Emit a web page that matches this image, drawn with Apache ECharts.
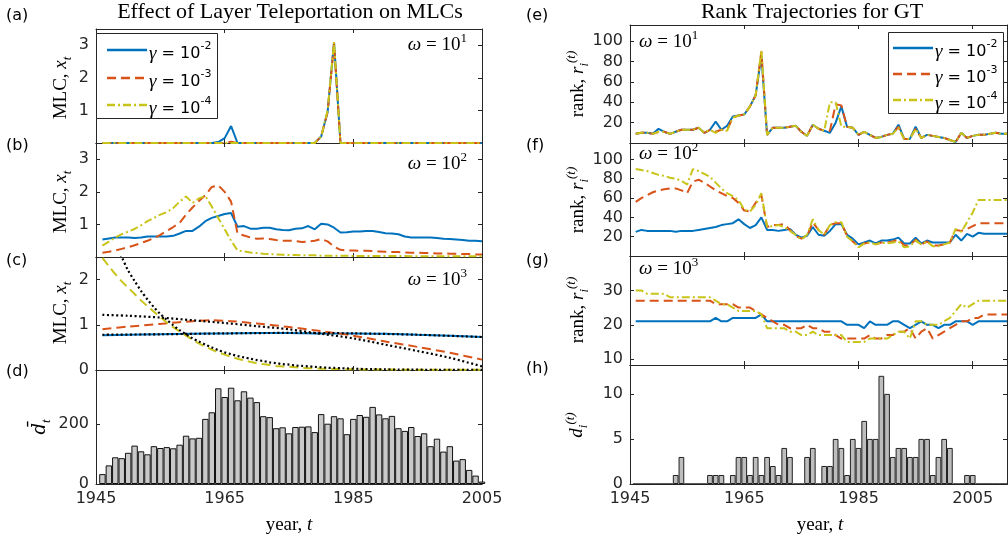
<!DOCTYPE html>
<html><head><meta charset="utf-8">
<script src="https://cdn.jsdelivr.net/npm/echarts@6/dist/echarts.min.js"></script>
<style>html,body{margin:0;padding:0;background:#fff}#c{width:1008px;height:542px}</style>
</head><body><div id="c"></div>
<script>
// ---------------- DATA ----------------
const START = 1946;                 // first year of every series
const xTicks = [1945, 1965, 1985, 2005];
const gammaLabels = ['-2', '-3', '-4'];
const omegaExp = ['1', '2', '3'];

// (a) MLC, omega = 10^1 (1946..2005)
const aBlue   = [0,0,0,0,0,0,0,0,0,0, 0,0,0,0,0,0,0,0,0.03,0.15, 0.52,0,0,0,0,0,0,0,0,0, 0,0,0,0,0.2,0.95,3.1,0,0,0, 0,0,0,0,0,0,0,0,0,0, 0,0,0,0,0,0,0,0,0,0];
const aOrange = [0,0,0,0,0,0,0,0,0,0, 0,0,0,0,0,0,0,0,0,0, 0.04,0,0,0,0,0,0,0,0,0, 0,0,0,0,0.2,0.95,3.05,0,0,0, 0,0,0,0,0,0,0,0,0,0, 0,0,0,0,0,0,0,0,0,0];
const aYellow = [0,0,0,0,0,0,0,0,0,0, 0,0,0,0,0,0,0,0,0,0, 0,0,0,0,0,0,0,0,0,0, 0,0,0,0,0.2,1.0,3.1,0,0,0, 0,0,0,0,0,0,0,0,0,0, 0,0,0,0,0,0,0,0,0,0];
// (b) MLC, omega = 10^2
const bBlue   = [0.54,0.57,0.6,0.6,0.6,0.58,0.6,0.63,0.63,0.63, 0.63,0.65,0.72,0.8,0.8,0.93,1.1,1.2,1.26,1.32, 1.35,0.93,0.95,0.87,0.87,0.9,0.9,0.85,0.83,0.82, 0.87,0.88,0.95,0.85,1.02,1.0,0.9,0.75,0.76,0.78, 0.78,0.8,0.8,0.77,0.73,0.72,0.7,0.63,0.6,0.6, 0.6,0.6,0.58,0.56,0.55,0.54,0.52,0.5,0.5,0.48];
const bOrange = [0.13,0.16,0.2,0.25,0.3,0.36,0.43,0.5,0.58,0.68, 0.8,0.92,1.05,1.3,1.52,1.72,1.9,2.15,2.2,2.0, 1.7,0.72,0.66,0.6,0.56,0.57,0.55,0.52,0.5,0.5, 0.49,0.46,0.47,0.5,0.55,0.48,0.32,0.22,0.2,0.2, 0.19,0.19,0.18,0.17,0.16,0.15,0.15,0.14,0.13,0.13, 0.12,0.12,0.11,0.11,0.1,0.1,0.09,0.09,0.08,0.08];
const bYellow = [0.35,0.47,0.6,0.7,0.78,0.86,0.97,1.1,1.2,1.3, 1.38,1.5,1.7,1.86,1.66,1.8,1.87,1.55,1.2,0.85, 0.5,0.2,0.17,0.14,0.12,0.1,0.09,0.08,0.07,0.06, 0.06,0.05,0.05,0.05,0.04,0.04,0.04,0.04,0.04,0.03, 0.03,0.03,0.03,0.03,0.03,0.03,0.03,0.03,0.02,0.02, 0.02,0.02,0.02,0.02,0.02,0.02,0.02,0.02,0.02,0.02];
// (c) MLC, omega = 10^3, with fitted (dotted) curves
const cBlue      = [[1946,0.77],[1950,0.78],[1955,0.79],[1960,0.8],[1965,0.81],[1970,0.82],[1975,0.82],[1980,0.81],[1985,0.81],[1990,0.8],[1995,0.78],[2000,0.76],[2005,0.73]];
const cBlueFit   = [[1946,0.78],[1955,0.79],[1965,0.81],[1975,0.82],[1985,0.81],[1995,0.78],[2005,0.73]];
const cOrange    = [[1946,0.9],[1950,0.96],[1955,1.02],[1960,1.08],[1963,1.1],[1966,1.08],[1970,1.03],[1975,0.95],[1980,0.86],[1985,0.76],[1990,0.63],[1995,0.51],[2000,0.38],[2005,0.23]];
const cOrangeFit = [[1946,1.22],[1950,1.2],[1955,1.16],[1960,1.1],[1965,1.04],[1970,0.97],[1975,0.9],[1980,0.8],[1985,0.7],[1990,0.56],[1995,0.42],[2000,0.27],[2005,0.08]];
const cYellow    = [2.48,2.3,2.12,1.96,1.82,1.68,1.54,1.41,1.29,1.17, 1.05,0.95,0.85,0.76,0.67,0.59,0.52,0.45,0.39,0.34, 0.29,0.25,0.21,0.18,0.15,0.13,0.11,0.09,0.08,0.07, 0.06,0.05,0.04,0.035,0.03,0.025,0.02,0.02,0.015,0.015, 0.01,0.01,0.01,0.01,0.01,0.01,0.005,0.005,0.005,0.005, 0.005,0.005,0.005,0.005,0.005,0.005,0.005,0.005,0.005,0.005];
const cYellowFit = [3.6,3.2,2.8,2.5,2.2,1.97,1.75,1.56,1.39,1.24, 1.11,0.99,0.88,0.79,0.7,0.63,0.56,0.5,0.44,0.39, 0.35,0.31,0.28,0.25,0.22,0.2,0.17,0.15,0.13,0.12, 0.1,0.09,0.08,0.07,0.06,0.05,0.045,0.04,0.035,0.03, 0.025,0.02,0.02,0.015,0.015,0.01,0.01,0.01,0.01,0.01, 0.005,0.005,0.005,0.005,0.005,0.005,0.005,0.005,0.005,0.005];
// (d) mean d_t (1946..2005)
const dMean = [33,62,89,86,104,128,109,99,126,120, 123,119,131,161,152,154,217,239,319,290, 321,279,309,288,273,226,223,186,189,169, 190,191,192,173,233,201,226,219,166,217, 230,224,257,232,219,227,186,177,190,160, 169,126,151,108,126,78,83,47,28,8];
// (e) rank, omega = 10^1 (1946..2011)
const eBlue   = [9,10,10,9,14,11,9,11,13,13, 13,15,10,13,21,13,17,26,27,28, 36,47,86,8,15,15,15,16,17,11, 7,18,14,12,10,20,36,16,15,8, 11,8,5,6,8,9,18,4,4,16, 5,8,7,6,5,3,1,10,5,7, 8,8,9,10,9,9];
const eOrange = [9,10,10,9,11,11,9,11,13,13, 13,15,10,13,11,13,13,25,27,28, 36,47,90,8,15,15,15,16,17,11, 7,18,14,12,12,38,37,16,15,8, 11,8,5,6,8,9,16,4,4,14, 5,8,7,6,5,3,1,10,5,7, 8,8,9,10,9,9];
const eYellow = [9,10,10,9,11,11,9,11,13,13, 13,15,10,13,10,13,12,25,27,28, 36,47,91,8,15,15,15,16,17,11, 7,18,14,12,40,40,16,16,15,8, 11,8,5,6,8,9,15,4,4,14, 5,8,7,6,5,3,1,10,5,7, 8,8,9,10,9,9];
// (f) rank, omega = 10^2
const fBlue   = [25,27,26,26,26,26,26,25,26,26, 26,27,28,29,30,32,33,34,38,33, 29,32,40,27,27,26,27,28,22,19, 21,30,22,21,26,33,33,22,18,12, 14,16,13,16,16,17,19,13,13,19, 13,16,14,14,14,14,22,16,23,20, 24,23,23,23,23,23];
const fOrange = [56,60,63,66,68,69,70,70,68,65, 77,79,76,72,68,65,62,60,55,47, 46,55,63,30,32,32,33,27,21,18, 21,35,27,22,32,34,34,21,15,10, 13,14,12,14,14,15,17,11,11,17, 12,15,11,11,12,14,27,26,28,31, 34,34,34,34,34,34];
const fYellow = [90,89,88,86,84,83,81,80,78,74, 90,88,85,82,76,70,65,62,58,48, 46,53,65,30,31,32,30,26,22,17, 22,38,27,22,32,35,35,20,15,9, 13,14,12,14,13,14,15,9,10,16, 12,15,10,10,12,14,28,25,35,45, 58,58,58,58,58,58];
// (g) rank, omega = 10^3
const gBlue   = [21,21,21,21,21,21,21,21,21,21, 21,21,21,21,22,21,21,22,22,22, 22,22,23,21,21,21,21,21,21,21, 21,21,21,21,21,21,21,20,20,20, 19,21,20,20,20,21,21,20,19,20, 21,20,20,19,20,20,21,21,21,20, 21,21,21,21,21,21];
const gOrange = [27,27,27,27,27,27,27,27,27,27, 27,27,27,27,26,26,26,26,25,25, 25,24,23,22,21,20,20,19,19,19, 20,19,19,18,18,17,16,16,16,16, 16,17,16,16,17,17,18,18,19,16, 18,19,16,17,18,19,20,21,21,22, 22,23,23,23,23,23];
const gYellow = [30,30,29,29,29,29,28,28,28,28, 28,28,28,28,27,26,26,25,24,24, 24,24,23,19,19,19,19,18,18,17, 17,18,17,17,17,17,17,15,15,15, 15,16,16,16,16,17,18,18,16,21, 21,20,20,20,21,22,24,26,25,26, 27,27,27,27,27,27];
// (h) d_i^(t) (1946..2011)
const hCount = [0,0,0,0,0,0,0,1,3,0, 0,0,0,1,1,1,0,1,3,3, 1,3,1,3,2,1,4,3,0,0, 3,4,0,2,2,5,4,1,5,4, 7,5,5,12,10,3,4,4,3,3, 5,5,1,3,5,4,0,0,1,1, 0,0,0,0,0,0];

// ---------------- STYLE / LAYOUT ----------------
const COL = {blue:'#0072BD', orange:'#D95319', yellow:'#C9C41A'};
const AX = '#262626';
const SANS = 'DejaVu Sans', SERIF = 'Liberation Serif';
const TICKFS = 16;
const LEFT = {left:96, width:386, xmin:1945, xmax:2005};
const RIGHT = {left:630, width:377, xmin:1945, xmax:2011};
const panels = [
  {g:LEFT,  top:29,  h:114, ymin:0, ymax:3.5,  yl:[1,2,3],            yt:[0,1,2,3],          xl:false},
  {g:LEFT,  top:143, h:114, ymin:0, ymax:3.5,  yl:[1,2,3],            yt:[0,1,2,3],          xl:false},
  {g:LEFT,  top:257, h:113, ymin:0, ymax:2.5,  yl:[0,1,2],            yt:[0,1,2],            xl:false},
  {g:LEFT,  top:370, h:114, ymin:0, ymax:380,  yl:[0,200],            yt:[0,200],            xl:true},
  {g:RIGHT, top:25,  h:118, ymin:0, ymax:116,  yl:[20,40,60,80,100],  yt:[20,40,60,80,100],  xl:false},
  {g:RIGHT, top:143, h:113, ymin:0, ymax:117,  yl:[20,40,60,80,100],  yt:[20,40,60,80,100],  xl:false},
  {g:RIGHT, top:256, h:109, ymin:8.3, ymax:40, yl:[10,20,30],         yt:[10,20,30],         xl:false},
  {g:RIGHT, top:365, h:119, ymin:0, ymax:13.2, yl:[0,5,10],           yt:[0,5,10],           xl:true}
];

const grid = [], xAxis = [], yAxis = [];
const fmt = v => String(v);
panels.forEach((p, i) => {
  grid.push({left:p.g.left, top:p.top, width:p.g.width, height:p.h, show:false});
  const common = {gridIndex:i, type:'value', splitLine:{show:false},
    axisLine:{show:true, onZero:false, lineStyle:{color:AX, width:1}}};
  ['bottom','top'].forEach(pos => xAxis.push(Object.assign({}, common, {
    position:pos, min:p.g.xmin, max:p.g.xmax,
    axisTick:{show:true, inside:true, length:4, customValues:xTicks, lineStyle:{color:AX}},
    axisLabel:{show:pos==='bottom' && p.xl, customValues:xTicks, formatter:fmt, color:AX, fontFamily:SANS, fontSize:TICKFS, margin:7}
  })));
  ['left','right'].forEach(pos => yAxis.push(Object.assign({}, common, {
    position:pos, min:p.ymin, max:p.ymax,
    axisTick:{show:true, inside:true, length:4, customValues:p.yt, lineStyle:{color:AX}},
    axisLabel:{show:pos==='left', customValues:p.yl, formatter:fmt, color:AX, fontFamily:SANS, fontSize:TICKFS, margin:7}
  })));
});

const series = [];
const yr = arr => arr.map((v, i) => [START + i, v]);
function line(pi, data, color, type, width, z) {
  series.push({type:'line', xAxisIndex:2*pi, yAxisIndex:2*pi, data:data, symbol:'none',
    clip:true, z:z||2, lineStyle:{color:color, width:width||2, type:type||'solid'}, animation:false});
}
const DASH = [9,5], DASHDOT = [8,3,2,3], DOT = [2,2.6];
// (a)
line(0, yr(aBlue), COL.blue); line(0, yr(aOrange), COL.orange, DASH); line(0, yr(aYellow), COL.yellow, DASHDOT);
// (b)
line(1, yr(bBlue), COL.blue); line(1, yr(bOrange), COL.orange, DASH); line(1, yr(bYellow), COL.yellow, DASHDOT);
// (c)
line(2, cBlue, COL.blue); line(2, cOrange, COL.orange, DASH); line(2, yr(cYellow), COL.yellow, DASH);
line(2, cBlueFit, '#000', DOT, 2.2, 3); line(2, cOrangeFit, '#000', DOT, 2.2, 3); line(2, yr(cYellowFit), '#000', DOT, 2.2, 3);
series.forEach(s => { if (s.xAxisIndex === 4) s.smooth = 0.3; });
// (d)
series.push({type:'bar', xAxisIndex:6, yAxisIndex:6, data:yr(dMean), barWidth:LEFT.width/(LEFT.xmax-LEFT.xmin),
  itemStyle:{color:'#c9c9c9', borderColor:'#111', borderWidth:1}, animation:false});
// (e)(f)(g)
[[4,eBlue,eOrange,eYellow],[5,fBlue,fOrange,fYellow],[6,gBlue,gOrange,gYellow]].forEach(r => {
  line(r[0], yr(r[1]), COL.blue); line(r[0], yr(r[2]), COL.orange, DASH); line(r[0], yr(r[3]), COL.yellow, DASHDOT);
});
// (h)
series.push({type:'bar', xAxisIndex:14, yAxisIndex:14, data:yr(hCount), barWidth:RIGHT.width/(RIGHT.xmax-RIGHT.xmin),
  itemStyle:{color:'#bdbdbd', borderColor:'#222', borderWidth:1}, animation:false});

// ---------------- TEXT / GRAPHICS ----------------
const rich = {
  n:{fontFamily:SERIF, fontSize:19, color:'#000', lineHeight:26},
  i:{fontFamily:SERIF, fontSize:19, fontStyle:'italic', color:'#000', lineHeight:26},
  di:{fontFamily:'DejaVu Serif', fontSize:18, fontStyle:'italic', color:'#000', lineHeight:26},
  sub:{fontFamily:SERIF, fontSize:13, fontStyle:'italic', color:'#000', lineHeight:15, verticalAlign:'bottom'},
  sup:{fontFamily:SERIF, fontSize:13, color:'#000', lineHeight:15, verticalAlign:'top'},
  supi:{fontFamily:SERIF, fontSize:13, fontStyle:'italic', color:'#000', lineHeight:15, verticalAlign:'top'},
  ls:{fontFamily:SANS, fontSize:16, color:'#000', lineHeight:26},
  lsup:{fontFamily:SANS, fontSize:11, color:'#000', lineHeight:14, verticalAlign:'top'}
};
const graphic = [];
function txt(x, y, text, opt) {
  graphic.push(Object.assign({type:'text', x:x, y:y, silent:true, z:100,
    style:Object.assign({text:text, rich:rich, align:'center', verticalAlign:'middle', fill:'#000'}, (opt&&opt.style)||{})},
    opt && opt.rotation ? {rotation:opt.rotation} : {}));
}
const plain = (x, y, s) => graphic.push({type:'text', x:x, y:y, silent:true, z:100,
  style:{text:s, fontFamily:SANS, fontSize:16, fill:'#000', align:'left', verticalAlign:'middle'}});

// titles
graphic.push({type:'text', x:290, y:12, silent:true, style:{text:'Effect of Layer Teleportation on MLCs', fontFamily:SERIF, fontSize:22, fill:'#000', align:'center', verticalAlign:'middle'}});
graphic.push({type:'text', x:812, y:12, silent:true, style:{text:'Rank Trajectories for GT', fontFamily:SERIF, fontSize:22, fill:'#000', align:'center', verticalAlign:'middle'}});
// panel letters
[['(a)',6,16],['(b)',6,146],['(c)',6,261],['(d)',6,372],['(e)',526,16],['(f)',526,146],['(g)',526,261],['(h)',526,369]]
  .forEach(l => plain(l[1], l[2], l[0]));
// y axis names
const R = Math.PI/2;
[88,202,313].forEach(cy => txt(61, cy, '{n|MLC, }{i|x}{sub|t}', {rotation:R}));
txt(40, 427, '{di|d\u0304}{sub|t}', {rotation:R});
[84,200,310].forEach(cy => txt(578, cy, '{n|rank, }{i|r}{sub|i}{supi|(t)}', {rotation:R}));
txt(577, 425, '{i|d}{sub|i}{supi|(t)}', {rotation:R});
// x axis names
txt(289, 525, '{n|year, }{i|t}');
txt(820, 525, '{n|year, }{i|t}');
// omega labels
[[45,0],[164,1],[280,2]].forEach(o => txt(467, o[0], '{i|\u03c9}{n| = 10}{sup|' + omegaExp[o[1]] + '}', {style:{align:'right'}}));
[[42,0],[154,1],[269,2]].forEach(o => txt(639, o[0], '{i|\u03c9}{n| = 10}{sup|' + omegaExp[o[1]] + '}', {style:{align:'left'}}));
// legends
function legend(x0, y0, w, h, lx0, lx1, ys) {
  graphic.push({type:'rect', shape:{x:x0+0.5, y:y0+0.5, width:w, height:h}, z:90,
    style:{fill:'#fff', stroke:AX, lineWidth:1}, silent:true});
  const cols = [COL.blue, COL.orange, COL.yellow], dashes = [null, DASH, DASHDOT];
  ys.forEach((y, k) => {
    graphic.push({type:'line', shape:{x1:lx0, y1:y, x2:lx1, y2:y}, z:95, silent:true,
      style:{stroke:cols[k], lineWidth:2.5, lineDash:dashes[k]}});
    txt(lx1 + 2, y + 4, '{i|\u03b3}{ls| = 10}{lsup|' + gammaLabels[k] + '}', {style:{align:'left'}});
  });
}
legend(96, 33, 121, 85, 107, 147, [50, 78, 105]);
legend(888, 32, 115, 81, 893, 933, [48, 74, 100]);

const chart = echarts.init(document.getElementById('c'), null, {renderer:'canvas'});
chart.setOption({animation:false, grid, xAxis, yAxis, series, graphic});
</script></body></html>
